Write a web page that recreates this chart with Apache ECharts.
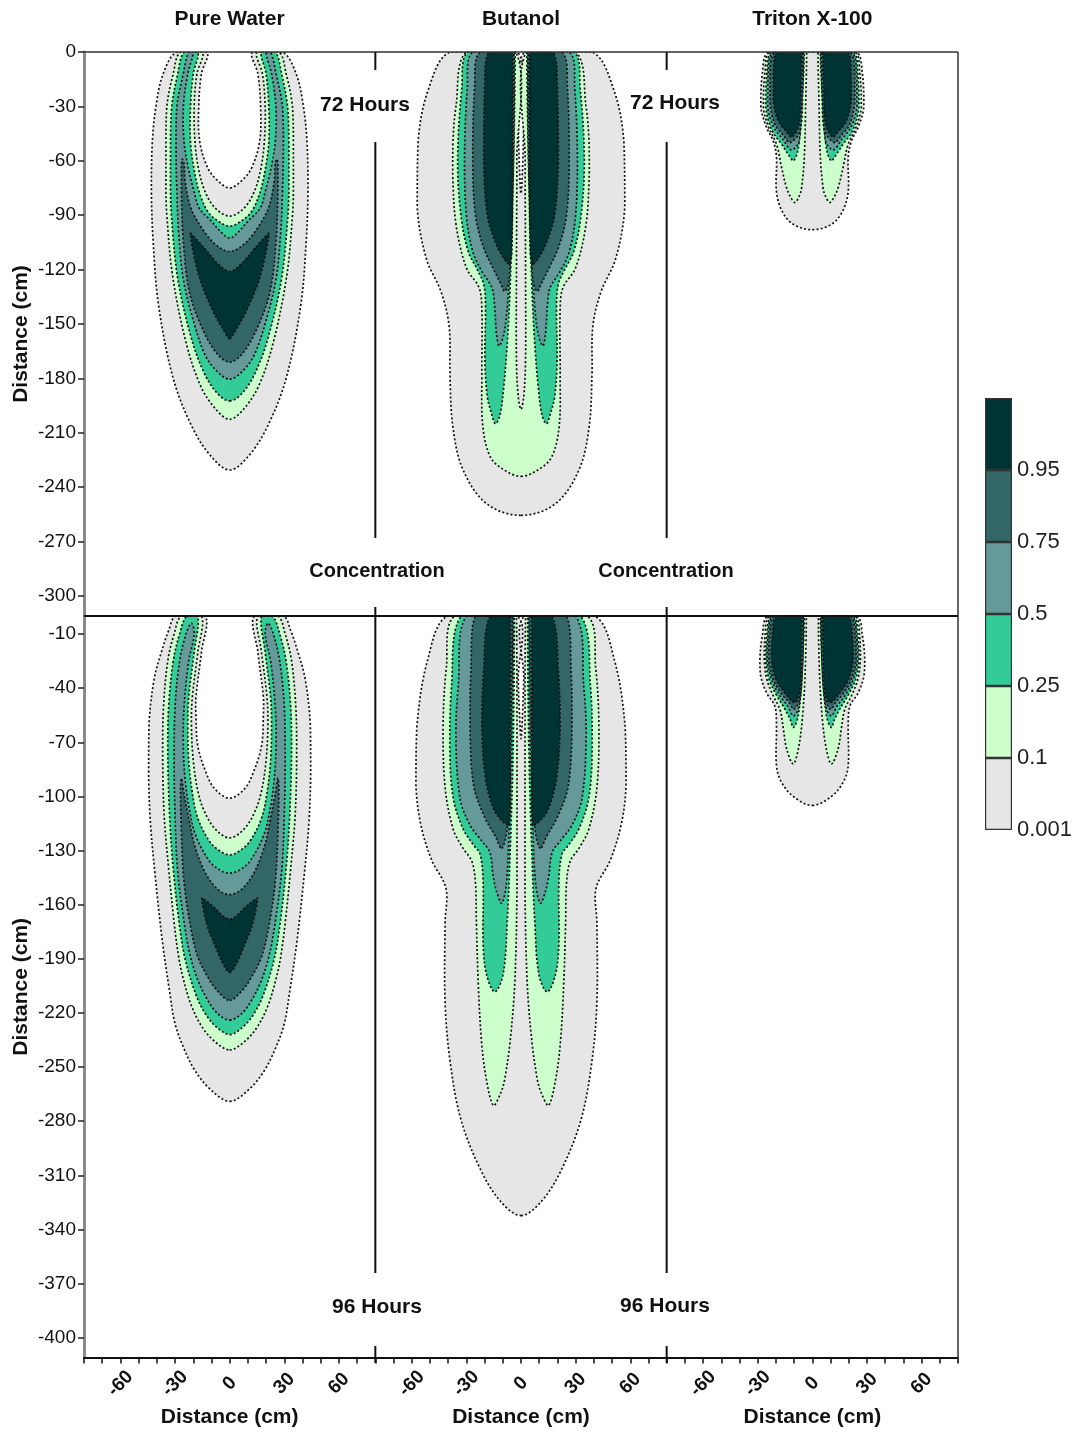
<!DOCTYPE html>
<html>
<head>
<meta charset="utf-8">
<script src="https://cdn.jsdelivr.net/npm/echarts@6.0.0/dist/echarts.min.js"></script>
<style>
  html, body { margin: 0; padding: 0; background: #fff; }
  #chart { width: 1080px; height: 1433px; }
</style>
</head>
<body>
<div id="chart"></div>
<script>
// contour levels and fills (lowest -> highest)
const levelColors = ['#e6e6e6', '#ccffcc', '#33cc99', '#669999', '#336666', '#003333'];
const levelLabels = ['0.001', '0.1', '0.25', '0.5', '0.75', '0.95', ''];
const titles = ['Pure Water', 'Butanol', 'Triton X-100'];

const xTicks = [-80, -70, -60, -50, -40, -30, -20, -10, 0, 10, 20, 30, 40, 50, 60, 70, 80];
const xLabels = [-60, -30, 0, 30, 60];
const yTicksTop = [0, -30, -60, -90, -120, -150, -180, -210, -240, -270, -300];
const yTicksBottom = [-10, -40, -70, -100, -130, -160, -190, -220, -250, -280, -310, -340, -370, -400];

// contour outlines, [distance cm, depth cm]
// "half": right half from x=0 to x=0, mirrored into one polygon
// "lobe": right lobe, mirrored into a second lobe

// Pure Water, 72 h
const pw72Gray = [[0,-230.5],[11,-222],[21,-206],[31,-180],[39,-140],[42,-105],[43,-77],[42.5,-50],[40.5,-30],[36.5,-12],[29,0],[12.5,0],[15.5,-12],[17,-30],[16.5,-49],[12,-64],[6.5,-71],[0,-75]];
const pw72Lg = [[0,-202.5],[7.6,-197],[16,-184],[24,-160],[31.4,-123],[34.5,-90],[35,-77],[35,-50],[34.5,-30],[31,-12],[27,0],[15,0],[18,-12],[19.5,-30],[19,-50],[17,-65],[13.5,-77],[8,-86],[0,-90.5]];
const pw72Green = [[0,-192.4],[7,-188],[14,-177],[21,-158],[28.5,-125],[32,-90],[32.5,-75],[32.5,-50],[31.8,-30],[28.5,-12],[25,0],[17.5,0],[20,-12],[21.5,-30],[21.5,-50],[19.5,-65],[16.8,-77],[12,-88],[6,-93.5],[0,-96]];
const pw72Teal = [[0,-180.4],[8,-175],[14,-166],[20,-148],[25.5,-125],[28,-100],[29,-77],[29.5,-50],[29,-30],[25.5,-12],[22.5,0],[20,0],[23,-12],[25.4,-30],[25,-50],[22.5,-65],[19.5,-77],[16.8,-86],[10.3,-93],[5,-99],[0,-102.6]];
const pw72Dteal = [[0,-171],[7.6,-165.6],[15.8,-150.7],[22.2,-132],[25.5,-104],[26.5,-77],[26.5,-63],[26,-59],[25,-62],[24.5,-71],[21.3,-86],[14,-99],[6.7,-107],[0,-110]];
const pw72Dark = [[0,-158],[2.8,-154.4],[9.8,-141.5],[17,-123],[21.5,-100],[14,-108],[6.7,-116.5],[0,-121]];

// Butanol, 72 h
const bu72Gray = [[0,-255.5],[19,-249],[32,-230],[37.5,-206],[39,-178],[39.5,-151],[44,-132],[52,-114],[57,-86],[56.5,-49],[51,-21],[39,0],[2,0],[1.5,-40],[0.8,-65],[0,-78]];
const bu72Lg = [[0,-234],[10,-230],[17,-223],[21,-206],[21.5,-178],[21.5,-142],[23,-130],[30,-119],[35.7,-95],[37.5,-67],[37.4,-50],[35.7,-30],[30,0],[2.8,0],[2.3,-60],[2.5,-120],[2.5,-170],[1.5,-190],[0,-197]];
const bu72Green = [[3.2,0],[29,0],[32.5,-20],[34.8,-60],[33,-90],[29,-110],[24,-120],[20.5,-128],[19.5,-140],[19.8,-170],[18.5,-190],[16,-200],[14,-205],[11.5,-200],[9.5,-185],[7.5,-160],[6,-130],[4.5,-80]];
const bu72Teal = [[3.8,0],[26.5,0],[29.5,-20],[31,-60],[30,-90],[26.5,-110],[21.5,-121],[16,-130],[14.5,-140],[13.5,-155],[12,-162],[9.5,-156],[7.5,-140],[5.5,-100],[4,-50]];
const bu72Dteal = [[4.2,0],[22.5,0],[25.5,-20],[26.5,-60],[25,-90],[20.5,-108],[15,-120],[11,-128],[9,-132],[6.5,-126],[4.4,-60]];
const bu72Dark = [[4.6,0],[17.5,0],[20,-20],[20.5,-60],[18.5,-90],[14,-105],[10,-113],[6.5,-117],[5,-110],[4.8,-60]];

// Triton X-100, 72 h
const tr72Gray = [[0,-98],[10.5,-95],[16.5,-88],[19.7,-77],[19.7,-58],[21.5,-49],[25.2,-41.5],[28.3,-30],[27.5,-12],[24,0],[0,0]];
const tr72Lg = [[3.1,0],[23.3,0],[26,-11],[26.9,-30],[24.2,-41],[19.6,-51],[16.8,-64],[14.1,-75],[11.4,-81],[9.5,-83],[7,-79],[5.9,-75],[4.4,-58],[3.7,-30]];
const tr72Green = [[4.4,0],[22.3,0],[25,-12],[25.6,-30],[22.3,-43],[16.8,-51],[13.2,-56.5],[10.4,-60],[7.7,-53],[5.9,-30]];
const tr72Teal = [[4.9,0],[21.4,0],[24.2,-12],[24.5,-30],[21.4,-41],[16.3,-48],[11.4,-54],[7.3,-49],[5.5,-21]];
const tr72Dteal = [[5.1,0],[20.5,0],[23.3,-12],[23.3,-28],[20.5,-40],[15.9,-46],[12.3,-50],[6.8,-43.5],[5.3,-21]];
const tr72Dark = [[5.9,0],[19.6,0],[21.4,-12],[21.4,-27],[18.7,-38],[14.1,-44],[11.4,-47],[7.3,-40],[6.2,-21]];

// Pure Water, 96 h
const pw96Gray = [[0,-269],[11,-262],[19,-252],[25,-240],[30,-226],[33,-208],[37,-180],[41,-143],[43.5,-115],[44.5,-88],[44.3,-60],[41.5,-35],[37.5,-20],[33.5,-8],[29.5,0],[13.5,0],[15.5,-20],[18.5,-45],[18.5,-55],[17.5,-72],[12.5,-88],[8,-96],[0,-101]];
const pw96Lg = [[0,-240.5],[8,-236],[15,-228],[21,-216],[25.5,-201],[28,-189],[30.5,-170],[33.5,-140],[36,-110],[36.8,-75],[36.3,-50],[34,-25],[30.5,-10],[26.5,0],[15.5,0],[17.5,-20],[20.5,-45],[21,-60],[20,-80],[17.5,-97],[14,-108],[8,-118],[0,-123]];
const pw96Green = [[0,-232],[7,-228],[13,-221],[18.5,-210],[24.5,-190],[27.5,-172],[31,-140],[33,-110],[34,-75],[33.5,-50],[31,-25],[27.5,-10],[23.5,0],[17.5,0],[19.5,-20],[22.5,-45],[23,-60],[22.5,-80],[20.5,-98],[17.5,-112],[11,-125],[5,-130.5],[0,-132.4]];
const pw96Teal = [[0,-224],[7,-220],[12,-213],[17,-203],[21.5,-189],[25,-170],[28.7,-140],[30,-110],[30.5,-80],[30,-50],[27.5,-25],[24,-10],[21,-4],[19.5,-10],[22.5,-25],[25,-50],[25.5,-70],[24.5,-90],[22,-108],[18.5,-122],[11,-136],[5,-141],[0,-142.5]];
const pw96Dteal = [[0,-213],[6.5,-208],[11.5,-201],[17.5,-189],[21.5,-172],[25,-148],[26.5,-120],[27,-96],[26.5,-90],[25,-99],[22.5,-112],[19,-128],[13,-143],[6,-152],[0,-154.4]];
const pw96Dark = [[0,-197.5],[3,-194],[7.5,-184],[12.5,-171],[15.3,-156.3],[9,-161],[4,-166],[0,-168]];

// Butanol, 96 h
const bu96Gray = [[0,-332.3],[11,-324.7],[22,-307.3],[33,-279],[39,-246.4],[41.7,-213.7],[41.7,-170],[41.2,-151],[49,-135.4],[55,-115.8],[57.7,-94],[57.2,-61.4],[51.3,-24.4],[40.3,0],[2,0],[1.5,-35],[0.8,-55],[0,-68]];
const bu96Lg = [[2.5,0],[36.4,0],[41,-28.7],[42.8,-61.4],[41.8,-94],[37.3,-118],[31.8,-128.8],[27,-136],[25,-148],[24.5,-170],[23.5,-203],[21.7,-235.5],[19,-257],[15,-271.4],[11,-264],[9,-257],[6,-236],[3.4,-203],[2.2,-150],[2.2,-60]];
const bu96Green = [[3.6,0],[32.7,0],[38.2,-39.6],[39.1,-72.3],[37.3,-100.5],[31.8,-118],[26.3,-126.7],[22.5,-132],[20.8,-148],[20.8,-181],[19,-198.5],[14.4,-208.3],[9.8,-198.5],[7.6,-170],[5.8,-127],[4.3,-72]];
const bu96Teal = [[4.3,0],[30,0],[34.5,-39.6],[35.8,-65],[33.6,-100.5],[28.1,-115.8],[21.7,-124.5],[17.1,-131],[15.3,-144],[13.4,-152.8],[10.7,-159.3],[8,-148.4],[6.5,-115.8],[5.2,-72]];
const bu96Dteal = [[4.7,0],[25,0],[27.5,-30],[28,-61],[26,-94],[20,-111.4],[14,-122.3],[10.7,-129],[7.6,-118],[6.1,-80],[5.2,-40]];
const bu96Dark = [[5.8,0],[17,0],[20.5,-30],[21.5,-61],[19.5,-90],[15,-107],[10,-114],[6.5,-116],[6,-100],[6,-50]];

// Triton X-100, 96 h
const tr96Gray = [[0,-105],[10.5,-100],[17,-92],[19.7,-83],[19.7,-61],[20.6,-50],[25.2,-42.5],[28.4,-33],[28.8,-24],[27.5,-11],[24.3,0],[0,0]];
const tr96Lg = [[3.3,0],[23.3,0],[26,-11.4],[26.4,-24],[25,-35],[21.4,-44.4],[17.8,-51.7],[15.9,-62.7],[14.1,-73.7],[10.5,-82],[7.7,-73.7],[5.5,-57],[4,-33]];
const tr96Green = [[4.4,0],[22.3,0],[25,-11.4],[25.6,-24],[23.8,-35],[19.6,-44],[15,-51.7],[12.3,-57],[10.4,-61.8],[7.7,-55],[5.9,-33]];
const tr96Teal = [[4.8,0],[21.5,0],[24.3,-11.4],[24.8,-24],[22.5,-35],[18,-44],[13.5,-50],[10.4,-55.4],[7.3,-50],[5.5,-30]];
const tr96Dteal = [[5.1,0],[20.8,0],[23.5,-11],[24,-24],[21.5,-35],[17,-43],[12.8,-48],[10.2,-51.7],[7,-46],[5.3,-25]];
const tr96Dark = [[5.8,0],[19.5,0],[22,-11],[22.5,-24],[20,-35],[15.5,-42],[9.8,-48],[6.8,-42],[6,-20]];

const panels = [
  { row: 0, col: 0, layers: [[0, 'half', pw72Gray], [1, 'half', pw72Lg], [2, 'half', pw72Green], [3, 'half', pw72Teal], [4, 'half', pw72Dteal], [5, 'half', pw72Dark]] },
  { row: 0, col: 1, layers: [[0, 'half', bu72Gray], [1, 'half', bu72Lg], [2, 'lobe', bu72Green], [3, 'lobe', bu72Teal], [4, 'lobe', bu72Dteal], [5, 'lobe', bu72Dark]] },
  { row: 0, col: 2, layers: [[0, 'half', tr72Gray], [1, 'lobe', tr72Lg], [2, 'lobe', tr72Green], [3, 'lobe', tr72Teal], [4, 'lobe', tr72Dteal], [5, 'lobe', tr72Dark]] },
  { row: 1, col: 0, layers: [[0, 'half', pw96Gray], [1, 'half', pw96Lg], [2, 'half', pw96Green], [3, 'half', pw96Teal], [4, 'half', pw96Dteal], [5, 'half', pw96Dark]] },
  { row: 1, col: 1, layers: [[0, 'half', bu96Gray], [1, 'lobe', bu96Lg], [2, 'lobe', bu96Green], [3, 'lobe', bu96Teal], [4, 'lobe', bu96Dteal], [5, 'lobe', bu96Dark]] },
  { row: 1, col: 2, layers: [[0, 'half', tr96Gray], [1, 'lobe', tr96Lg], [2, 'lobe', tr96Green], [3, 'lobe', tr96Teal], [4, 'lobe', tr96Dteal], [5, 'lobe', tr96Dark]] }
];

const FONT = '"Liberation Sans", Arial, sans-serif';
const L = 84, R = 958, T = 52, M = 616, B = 1363;
const W = (R - L) / 3;

// mirror the stored halves / lobes about x = 0
function buildShapes(layers) {
  const out = [];
  layers.forEach(([lv, kind, pts]) => {
    if (kind === 'half') {
      const back = pts.slice(1, -1).reverse().map(p => [-p[0], p[1]]);
      out.push({ lv: lv, pts: pts.concat(back) });
    } else {
      out.push({ lv: lv, pts: pts });
      out.push({ lv: lv, pts: pts.map(p => [-p[0], p[1]]) });
    }
  });
  return out;
}

const grids = [], xAxes = [], yAxes = [], series = [];

panels.forEach((p, i) => {
  const bottom = p.row === 1;
  grids.push({
    left: L + p.col * W, top: bottom ? M : T,
    width: W, height: bottom ? B - M : M - T,
    show: false
  });
  xAxes.push({
    gridIndex: i, type: 'value', min: -80, max: 80,
    show: bottom,
    axisLine: { show: true, onZero: false, lineStyle: { color: '#111', width: 2 } },
    axisTick: { show: true, customValues: xTicks, length: 6, lineStyle: { color: '#111', width: 1.5 } },
    axisLabel: {
      show: true, customValues: xLabels, rotate: 45, align: 'center', verticalAlign: 'middle',
      margin: 26, fontSize: 19, fontWeight: 'bold', color: '#111', fontFamily: FONT
    },
    splitLine: { show: false },
    name: 'Distance (cm)', nameLocation: 'middle', nameGap: 47,
    nameTextStyle: { fontSize: 21, fontWeight: 'bold', color: '#111', fontFamily: FONT }
  });
  yAxes.push({
    gridIndex: i, type: 'value', min: bottom ? -411 : -311, max: 0,
    show: p.col === 0,
    axisLine: { show: true, onZero: false, lineStyle: { color: '#8a8a8a', width: 3 } },
    axisTick: { show: true, customValues: bottom ? yTicksBottom : yTicksTop, length: 6, lineStyle: { color: '#222', width: 1.5 } },
    axisLabel: { customValues: bottom ? yTicksBottom : yTicksTop, fontSize: 19, color: '#111', margin: 8, fontFamily: FONT },
    splitLine: { show: false },
    name: 'Distance (cm)', nameLocation: 'middle', nameGap: 52, nameRotate: 90,
    nameTextStyle: { fontSize: 21, fontWeight: 'bold', color: '#111', fontFamily: FONT }
  });

  const shapes = buildShapes(p.layers);
  series.push({
    type: 'custom',
    xAxisIndex: i, yAxisIndex: i,
    clip: true, silent: true,
    data: shapes.map(s => s.pts[0]),
    renderItem: function (params, api) {
      const s = shapes[params.dataIndex];
      const pts = s.pts.map(q => api.coord(q));
      return {
        type: 'polygon',
        shape: { points: pts, smooth: 0.35, smoothConstraint: [pts[0], pts[0]] },
        style: { fill: levelColors[s.lv], stroke: '#111', lineWidth: 1.7, lineDash: [2, 2.2] }
      };
    }
  });
});

// colour bar as a stacked column
grids.push({ left: 985, top: 398, width: 27, height: 432, show: false });
xAxes.push({ gridIndex: 6, type: 'category', data: ['c'], show: false });
yAxes.push({
  gridIndex: 6, type: 'value', min: 0, max: 6, interval: 1, position: 'right',
  axisLine: { show: false }, axisTick: { show: false }, splitLine: { show: false },
  axisLabel: { formatter: v => levelLabels[v], fontSize: 22, color: '#222', margin: 5, fontFamily: FONT }
});
levelColors.forEach((c, k) => {
  series.push({
    type: 'bar', stack: 'cbar', xAxisIndex: 6, yAxisIndex: 6, silent: true,
    data: [1], barWidth: '100%',
    itemStyle: { color: c, borderColor: '#333', borderWidth: 1.2 }
  });
});

// frame and dividers (gaps leave room for the panel notes)
const X1 = L + W, X2 = L + 2 * W;
const lines = [
  [L, T, R, T, '#333', 1.5],
  [R, T, R, B, '#333', 1.5],
  [L, M, R, M, '#111', 2]
];
[X1, X2].forEach(x => {
  [[T, 70], [142, 538], [607, 1273], [1346, B]].forEach(seg => lines.push([x, seg[0], x, seg[1], '#111', 2]));
});

const notes = [
  ['72 Hours', 365, 105, 21], ['72 Hours', 675, 103, 21],
  ['Concentration', 377, 571, 20], ['Concentration', 666, 571, 20],
  ['96 Hours', 377, 1307, 21], ['96 Hours', 665, 1306, 21]
];

const graphic = [];
lines.forEach(l => graphic.push({
  type: 'line', z: 50, silent: true,
  shape: { x1: l[0], y1: l[1], x2: l[2], y2: l[3] },
  style: { stroke: l[4], lineWidth: l[5] }
}));
notes.concat(titles.map((t, c) => [t, L + (c + 0.5) * W, 19, 21])).forEach(n => graphic.push({
  type: 'text', z: 50, silent: true, x: n[1], y: n[2],
  style: { text: n[0], fontSize: n[3], fontWeight: 'bold', fontFamily: FONT, fill: '#111', align: 'center', verticalAlign: 'middle' }
}));

const chart = echarts.init(document.getElementById('chart'));
chart.setOption({
  animation: false,
  backgroundColor: '#fff',
  grid: grids,
  xAxis: xAxes,
  yAxis: yAxes,
  series: series,
  graphic: graphic
});
</script>
</body>
</html>
